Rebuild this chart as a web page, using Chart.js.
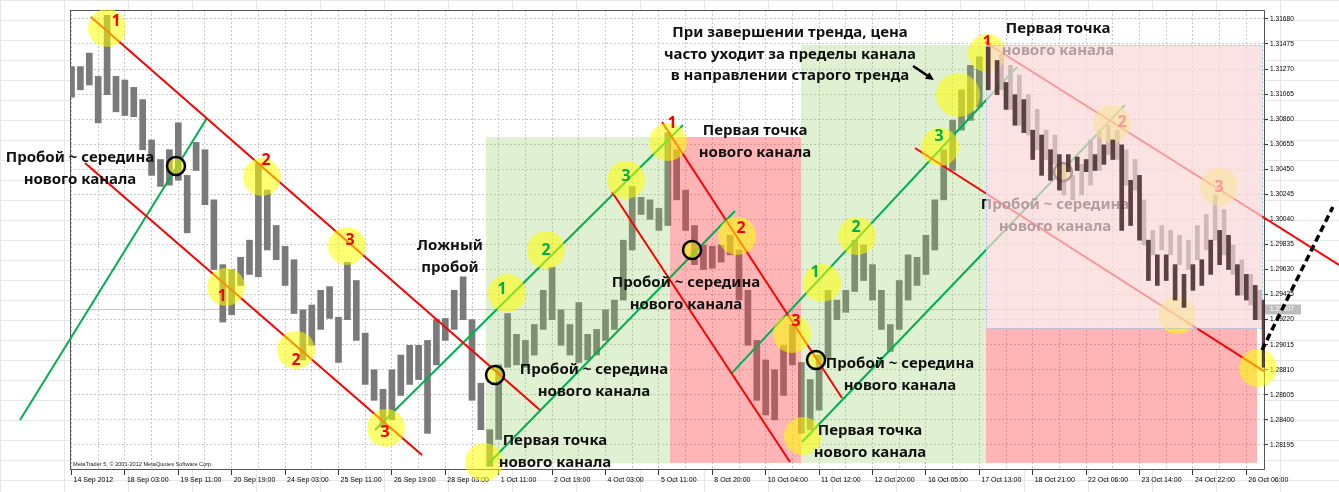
<!DOCTYPE html>
<html>
<head>
<meta charset="utf-8">
<script src="https://cdn.jsdelivr.net/npm/chart.js@4.4.0/dist/chart.umd.min.js"></script>
<style>
html, body { margin: 0; padding: 0; }
body {
  width: 1339px; height: 492px; overflow: hidden;
  background-color: #fff;
  background-image:
    linear-gradient(to right, #e6e6e6 1px, transparent 1px),
    linear-gradient(to bottom, #e6e6e6 1px, transparent 1px);
  background-size: 64px 20px;
}
canvas { display: block; }
</style>
</head>
<body>
<canvas id="chart" width="1339" height="492"></canvas>
<script>
// time axis labels (one label every 32 H1 bars)
var xLabels = ["14 Sep 2012", "18 Sep 03:00", "19 Sep 11:00", "20 Sep 19:00", "24 Sep 03:00", "25 Sep 11:00",
  "26 Sep 19:00", "28 Sep 03:00", "1 Oct 11:00", "2 Oct 19:00", "4 Oct 03:00", "5 Oct 11:00", "8 Oct 20:00",
  "10 Oct 04:00", "11 Oct 12:00", "12 Oct 20:00", "16 Oct 05:00", "17 Oct 13:00", "18 Oct 21:00",
  "22 Oct 06:00", "23 Oct 14:00", "24 Oct 22:00", "26 Oct 06:00"];
var yTickValues = [1.28195, 1.28400, 1.28605, 1.28810, 1.29015, 1.29220, 1.29425, 1.29630, 1.29835,
  1.30040, 1.30245, 1.30450, 1.30655, 1.30860, 1.31065, 1.31270, 1.31475, 1.31680];
var barsPerLabel = 6;
var lastPrice = 1.29307;

// EURUSD bars, high / low
var priceHigh = [1.3129, 1.3129, 1.3140, 1.3121, 1.3171, 1.3121, 1.3118, 1.3112, 1.3102, 1.3069,
  1.3053, 1.3061, 1.3083, 1.3040, 1.3067, 1.3061, 1.3020, 1.2967, 1.2963, 1.2973,
  1.2987, 1.3050, 1.3028, 1.2999, 1.2982, 1.2971, 1.2930, 1.2934, 1.2946, 1.2949,
  1.2924, 1.2969, 1.2954, 1.2911, 1.2881, 1.2865, 1.2881, 1.2893, 1.2901, 1.2901,
  1.2905, 1.2922, 1.2923, 1.2946, 1.2957, 1.2922, 1.2870, 1.2832, 1.2885, 1.2927,
  1.2910, 1.2905, 1.2918, 1.2946, 1.2965, 1.2930, 1.2918, 1.2936, 1.2910, 1.2914,
  1.2930, 1.2938, 1.2987, 1.3031, 1.3022, 1.3020, 1.3013, 1.3075, 1.3061, 1.3028,
  1.2999, 1.2983, 1.2982, 1.2983, 1.2991, 1.2979, 1.2946, 1.2905, 1.2889, 1.2881,
  1.2901, 1.2918, 1.2887, 1.2873, 1.2893, 1.2946, 1.2938, 1.2946, 1.2987, 1.2983,
  1.2967, 1.2946, 1.2918, 1.2954, 1.2975, 1.2973, 1.2991, 1.3020, 1.3061, 1.3085,
  1.3110, 1.3130, 1.3137, 1.3145, 1.3134, 1.3116, 1.3106, 1.3102, 1.3077, 1.3073,
  1.3061, 1.3057, 1.3057, 1.3055, 1.3053, 1.3057, 1.3065, 1.3069, 1.3065, 1.3036,
  1.3040, 1.2987, 1.2975, 1.2975, 1.2967, 1.2959, 1.2967, 1.2971, 1.2987, 1.2995,
  1.2991, 1.2967, 1.2959, 1.2950, 1.2938];
var priceLow = [1.3104, 1.3110, 1.3114, 1.3083, 1.3106, 1.3092, 1.3089, 1.3088, 1.3061, 1.3040,
  1.3031, 1.3032, 1.3036, 1.2993, 1.3044, 1.3016, 1.2963, 1.2920, 1.2926, 1.2950,
  1.2959, 1.2957, 1.2979, 1.2971, 1.2950, 1.2927, 1.2889, 1.2901, 1.2914, 1.2923,
  1.2887, 1.2922, 1.2905, 1.2869, 1.2856, 1.2834, 1.2840, 1.2860, 1.2869, 1.2873,
  1.2829, 1.2885, 1.2905, 1.2914, 1.2922, 1.2856, 1.2832, 1.2802, 1.2824, 1.2883,
  1.2885, 1.2883, 1.2893, 1.2914, 1.2922, 1.2901, 1.2893, 1.2887, 1.2889, 1.2893,
  1.2905, 1.2914, 1.2938, 1.2979, 1.3008, 1.3004, 1.2995, 1.2999, 1.3020, 1.2995,
  1.2967, 1.2963, 1.2964, 1.2969, 1.2975, 1.2938, 1.2901, 1.2856, 1.2844, 1.2840,
  1.2860, 1.2885, 1.2829, 1.2832, 1.2848, 1.2890, 1.2922, 1.2928, 1.2945, 1.2954,
  1.2938, 1.2914, 1.2896, 1.2914, 1.2938, 1.2950, 1.2959, 1.2979, 1.3020, 1.3044,
  1.3077, 1.3085, 1.3096, 1.3110, 1.3106, 1.3094, 1.3081, 1.3075, 1.3053, 1.3040,
  1.3036, 1.3028, 1.3043, 1.3044, 1.3043, 1.3044, 1.3049, 1.3053, 1.2995, 1.2999,
  1.2987, 1.2954, 1.2950, 1.2954, 1.2938, 1.2932, 1.2946, 1.2950, 1.2959, 1.2967,
  1.2963, 1.2942, 1.2938, 1.2922, 1.2883];
var darkFrom = 103;

// faded copy of the bars inside the last channel
var ghostStart = 104;
var ghostHigh = [1.3139, 1.3130, 1.3122, 1.3106, 1.3094, 1.3077, 1.3073, 1.3049, 1.3040, 1.3049,
  1.3069, 1.3077, 1.3081, 1.3077, 1.3061, 1.3053, 1.3020, 1.2995, 1.2999, 1.2995,
  1.2991, 1.2987, 1.2999, 1.3008, 1.3024, 1.3012, 1.2983, 1.2971, 1.2959, 1.2946];
var ghostLow = [1.3110, 1.3094, 1.3081, 1.3073, 1.3061, 1.3053, 1.3049, 1.3024, 1.3020, 1.3024,
  1.3032, 1.3044, 1.3057, 1.3053, 1.3032, 1.3028, 1.2983, 1.2975, 1.2979, 1.2975,
  1.2967, 1.2963, 1.2971, 1.2979, 1.2987, 1.2975, 1.2959, 1.2942, 1.2934, 1.2922];

// channel lines [x1, price1, x2, price2]
var redLines = [
  [0.365, 1.31696, 8.773, 1.28481],
  [0.253, 1.30502, 6.564, 1.28113],
  [10.122, 1.30264, 13.455, 1.28056],
  [11.058, 1.30837, 14.429, 1.28579],
  [15.796, 1.30624, 22.350, 1.28792],
  [17.107, 1.31491, 23.736, 1.29667]
];
var greenLines = [
  [-0.964, 1.28399, 2.537, 1.30870],
  [5.684, 1.28317, 11.451, 1.30812],
  [7.781, 1.28031, 12.425, 1.30109],
  [12.369, 1.28784, 17.706, 1.31287],
  [13.679, 1.28219, 19.728, 1.30976]
];
var forecastLine = [22.294, 1.28972, 23.62, 1.30142];
var arrowLine = [15.76, 1.31295, 16.15, 1.31181];

// touch points of the channels
var touchX = [0.665, 3.567, 5.159, 2.893, 4.204, 5.890, 8.155, 8.885, 10.384, 11.170, 7.725,
  12.463, 13.492, 13.698, 14.054, 14.710, 16.264, 17.144, 19.485, 21.489, 20.702, 22.219];
var touchY = [1.31606, 1.30387, 1.29823, 1.29487, 1.28972, 1.28334, 1.29438, 1.29790, 1.30363, 1.30673, 1.28056,
  1.29905, 1.29103, 1.28268, 1.29520, 1.29905, 1.30633, 1.31401, 1.30821, 1.30305, 1.29258, 1.28825];
var exitPoint = [16.601, 1.31058];
var breakX = [1.957, 7.931, 11.620, 13.942, 18.567];
var breakY = [1.30477, 1.28768, 1.29790, 1.28890, 1.30428];

// point numbers
var redNumbers = [
  ["1", 0.833, 1.31663], ["2", 3.642, 1.30526], ["3", 5.215, 1.29864],
  ["1", 2.818, 1.29406], ["2", 4.204, 1.28890], ["3", 5.871, 1.28301],
  ["1", 11.245, 1.30821], ["2", 12.537, 1.29962], ["3", 13.567, 1.29209],
  ["1", 17.144, 1.31491], ["2", 19.672, 1.30837], ["3", 21.489, 1.30305]
];
var greenNumbers = [
  ["1", 8.062, 1.29463], ["2", 8.885, 1.29790], ["3", 10.384, 1.30395],
  ["1", 13.923, 1.29610], ["2", 14.691, 1.29978], ["3", 16.245, 1.30722]
];

var notes = [
  [0.159, 1.30543, ["Пробой ~ середина", "нового канала"]],
  [7.088, 1.29823, ["Ложный", "пробой"]],
  [9.785, 1.28808, ["Пробой ~ середина", "нового канала"]],
  [9.054, 1.28228, ["Первая точка", "нового канала"]],
  [12.800, 1.30763, ["Первая точка", "нового канала"]],
  [11.507, 1.29520, ["Пробой ~ середина", "нового канала"]],
  [15.515, 1.28857, ["Пробой ~ середина", "нового канала"]],
  [14.953, 1.28309, ["Первая точка", "нового канала"]],
  [13.455, 1.31565, ["При завершении тренда, цена", "часто уходит за пределы канала", "в направлении старого тренда"]],
  [18.474, 1.31598, ["Первая точка", "нового канала"]],
  [18.418, 1.30158, ["Пробой ~ середина", "нового канала"]]
];

// shaded zones [x1, top, x2, bottom]
var greenZones = [[7.762, 1.30714, 11.208, 1.28048], [13.661, 1.31467, 17.125, 1.28048]];
var redZones = [[11.208, 1.30714, 13.661, 1.28048], [17.125, 1.29152, 22.200, 1.28048]];
var fadeZone = [17.125, 1.31467, 22.294, 1.29152];

var axisFont = '"Liberation Sans", Arial, sans-serif';
var noteFont = 'bold 15px "Noto Sans", sans-serif';
var numFont = 'bold 16px "Noto Sans", sans-serif';

function bars(high, low, start, shift) {
  return high.map(function (h, k) {
    return { x: (start + k + shift) / barsPerLabel, y: [low[k], h] };
  });
}
function seg(l) { return [{ x: l[0], y: l[1] }, { x: l[2], y: l[3] }]; }

var datasets = [];
var IDX_GREY = datasets.push({
  type: 'bar', data: bars(priceHigh.slice(0, darkFrom), priceLow.slice(0, darkFrom), 0, 0),
  backgroundColor: '#7a7a7a', barThickness: 6, grouped: false, order: 9
}) - 1;
datasets.push({
  type: 'bar', data: bars(ghostHigh, ghostLow, ghostStart, 0.5),
  backgroundColor: '#6e6e6e', barThickness: 4, grouped: false, order: 10
});
redLines.forEach(function (l) {
  datasets.push({ type: 'line', data: seg(l), borderColor: '#ff0000', borderWidth: 2, pointRadius: 0, clip: false, order: 8 });
});
greenLines.forEach(function (l) {
  datasets.push({ type: 'line', data: seg(l), borderColor: '#00b050', borderWidth: 2, pointRadius: 0, clip: false, order: 8 });
});
datasets.push({
  type: 'scatter', data: touchX.map(function (x, i) { return { x: x, y: touchY[i] }; }),
  pointRadius: 19, backgroundColor: 'rgba(255,255,0,0.55)', borderWidth: 0, clip: false, order: 7
});
datasets.push({
  type: 'scatter', data: [{ x: exitPoint[0], y: exitPoint[1] }],
  pointRadius: 22, backgroundColor: 'rgba(255,255,0,0.55)', borderWidth: 0, clip: false, order: 7
});
var IDX_RINGS = datasets.push({
  type: 'scatter', data: breakX.map(function (x, i) { return { x: x, y: breakY[i] }; }),
  pointRadius: 9, backgroundColor: 'rgba(255,255,0,0.5)', borderColor: '#000', borderWidth: 2.5, clip: false, order: 6
}) - 1;
datasets.push({
  type: 'bar', data: bars(priceHigh.slice(darkFrom), priceLow.slice(darkFrom), darkFrom, 0),
  backgroundColor: 'rgba(65,38,38,0.85)', barThickness: 4, grouped: false, order: 2
});
datasets.push({
  type: 'line', data: seg(forecastLine), borderColor: '#000', borderWidth: 3.5, borderDash: [7, 4],
  pointRadius: 0, clip: false, order: 1
});

function drawZone(chart, z, color) {
  var xs = chart.scales.x, ys = chart.scales.y, ctx = chart.ctx;
  var x1 = xs.getPixelForValue(z[0]), y1 = ys.getPixelForValue(z[1]);
  var x2 = xs.getPixelForValue(z[2]), y2 = ys.getPixelForValue(z[3]);
  ctx.fillStyle = color;
  ctx.fillRect(x1, y1, x2 - x1, y2 - y1);
}

var overlayPlugin = {
  id: 'overlay',
  beforeDraw: function (chart) {
    var a = chart.chartArea, ctx = chart.ctx;
    ctx.save();
    ctx.fillStyle = '#fff';
    ctx.fillRect(a.left, a.top, a.right - a.left, a.bottom - a.top);
    ctx.restore();
  },
  beforeDatasetsDraw: function (chart) {
    var a = chart.chartArea, ctx = chart.ctx;
    var y = Math.round(chart.scales.y.getPixelForValue(lastPrice)) + 0.5;
    ctx.save();
    ctx.strokeStyle = '#c8c8c8';
    ctx.lineWidth = 1;
    ctx.beginPath(); ctx.moveTo(a.left, y); ctx.lineTo(a.right, y); ctx.stroke();
    ctx.strokeStyle = '#555';
    ctx.strokeRect(a.left + 0.5, a.top + 0.5, a.right - a.left - 1, a.bottom - a.top - 1);
    // current price tag
    ctx.fillStyle = '#bdbdbd';
    ctx.fillRect(a.right, y - 5, 36, 10);
    ctx.fillStyle = '#fff';
    ctx.font = '6.6px ' + axisFont;
    ctx.textBaseline = 'middle';
    ctx.fillText(lastPrice.toFixed(5), a.right + 5, y);
    ctx.fillStyle = '#222';
    ctx.font = '5.6px ' + axisFont;
    ctx.fillText('MetaTrader 5, \u00a9 2001-2012 MetaQuotes Software Corp.', a.left + 3, a.bottom - 6);
    ctx.restore();
  },
  afterDatasetDraw: function (chart, args) {
    var ctx = chart.ctx, xs = chart.scales.x, ys = chart.scales.y;
    if (args.index === IDX_GREY) {
      ctx.save();
      greenZones.forEach(function (z) { drawZone(chart, z, 'rgba(140,200,90,0.27)'); });
      redZones.forEach(function (z) { drawZone(chart, z, 'rgba(255,60,60,0.38)'); });
      ctx.restore();
    }
    if (args.index === IDX_RINGS) {
      ctx.save();
      ctx.textAlign = 'center';
      ctx.textBaseline = 'middle';
      ctx.font = numFont;
      ctx.fillStyle = '#ff0000';
      redNumbers.forEach(function (n) { ctx.fillText(n[0], xs.getPixelForValue(n[1]), ys.getPixelForValue(n[2])); });
      ctx.fillStyle = '#00b050';
      greenNumbers.forEach(function (n) { ctx.fillText(n[0], xs.getPixelForValue(n[1]), ys.getPixelForValue(n[2])); });
      ctx.font = noteFont;
      ctx.fillStyle = '#111';
      notes.forEach(function (n) {
        var x = xs.getPixelForValue(n[0]), y = ys.getPixelForValue(n[1]);
        n[2].forEach(function (t, j) { ctx.fillText(t, x, y + j * 21.5); });
      });
      // arrow
      var x1 = xs.getPixelForValue(arrowLine[0]), y1 = ys.getPixelForValue(arrowLine[1]);
      var x2 = xs.getPixelForValue(arrowLine[2]), y2 = ys.getPixelForValue(arrowLine[3]);
      var ang = Math.atan2(y2 - y1, x2 - x1);
      ctx.strokeStyle = '#000';
      ctx.lineWidth = 2.5;
      ctx.beginPath(); ctx.moveTo(x1, y1);
      ctx.lineTo(x2 - 6 * Math.cos(ang), y2 - 6 * Math.sin(ang)); ctx.stroke();
      ctx.fillStyle = '#000';
      ctx.beginPath();
      ctx.moveTo(x2, y2);
      ctx.lineTo(x2 - 9 * Math.cos(ang - 0.45), y2 - 9 * Math.sin(ang - 0.45));
      ctx.lineTo(x2 - 9 * Math.cos(ang + 0.45), y2 - 9 * Math.sin(ang + 0.45));
      ctx.closePath(); ctx.fill();
      // faded last channel
      drawZone(chart, fadeZone, 'rgba(250,215,215,0.7)');
      var fx1 = Math.round(xs.getPixelForValue(fadeZone[0])) + 0.5, fy1 = Math.round(ys.getPixelForValue(fadeZone[1])) + 0.5;
      var fx2 = Math.round(xs.getPixelForValue(fadeZone[2])) + 0.5, fy2 = Math.round(ys.getPixelForValue(fadeZone[3])) + 0.5;
      ctx.strokeStyle = '#8ec8ee';
      ctx.lineWidth = 1;
      ctx.setLineDash([2, 2]);
      ctx.strokeRect(fx1, fy1, fx2 - fx1, fy2 - fy1);
      ctx.restore();
    }
  }
};

new Chart('chart', {
  type: 'bar',
  data: { datasets: datasets },
  plugins: [overlayPlugin],
  options: {
    responsive: false,
    animation: false,
    events: [],
    layout: { autoPadding: false, padding: { left: 70, right: 29, top: 10, bottom: 0 } },
    plugins: { legend: { display: false }, tooltip: { enabled: false } },
    scales: {
      x: {
        type: 'linear', min: -0.028, max: 22.35, offset: false,
        afterBuildTicks: function (s) {
          s.ticks = [];
          for (var k = 0; k <= 2 * (xLabels.length - 1); k++) s.ticks.push({ value: k / 2 });
        },
        afterFit: function (s) { s.height = 22; },
        grid: {
          color: '#c8c8c8', offset: false, tickLength: 5,
          tickColor: function (c) { return c.tick && Number.isInteger(c.tick.value) ? '#333' : 'rgba(0,0,0,0)'; }
        },
        border: { display: false, dash: [2, 2] },
        ticks: {
          autoSkip: false, maxRotation: 0, align: 'start', labelOffset: 2, padding: 1, color: '#000',
          font: { family: axisFont, size: 7 },
          callback: function (v) { return Number.isInteger(v) ? xLabels[v] : ''; }
        }
      },
      y: {
        type: 'linear', position: 'right', min: 1.27990, max: 1.31753, beginAtZero: false,
        afterBuildTicks: function (s) { s.ticks = yTickValues.map(function (v) { return { value: v }; }); },
        afterFit: function (s) { s.width = 45; },
        grid: { color: '#c8c8c8', tickLength: 3, tickColor: '#333' },
        border: { display: false, dash: [2, 2] },
        ticks: {
          padding: 2, color: '#000', font: { family: axisFont, size: 6.6 },
          callback: function (v) { return v.toFixed(5); }
        }
      }
    }
  }
});
</script>
</body>
</html>
